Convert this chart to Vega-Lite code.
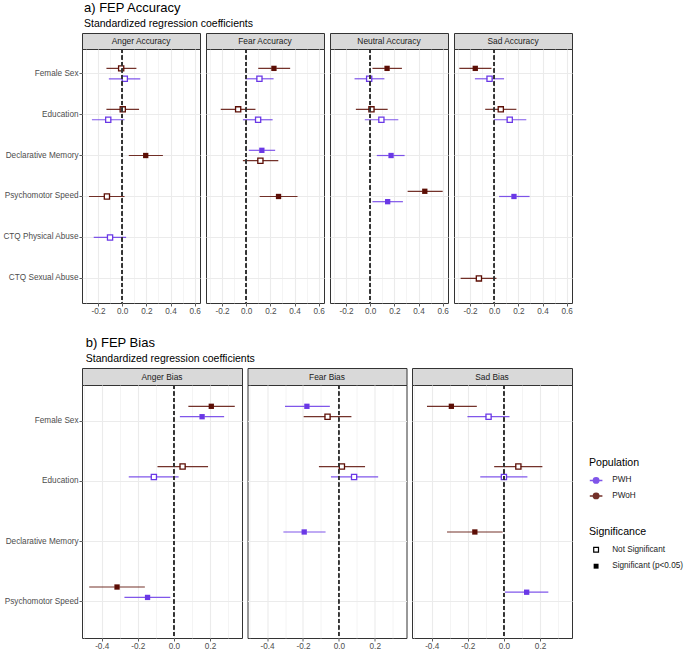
{
  "$schema": "https://vega.github.io/schema/vega-lite/v6.json",
  "padding": {"left": 1, "top": 2, "right": 2, "bottom": 0},
  "background": "white",
  "datasets": {
    "acc": [
      {"panel": "Anger Accuracy", "predictor": "Female Sex", "pop": "PWoH", "sig": "Not Significant", "est": -0.008, "lo": -0.13, "hi": 0.118},
      {"panel": "Anger Accuracy", "predictor": "Female Sex", "pop": "PWH", "sig": "Not Significant", "est": 0.022, "lo": -0.11, "hi": 0.15},
      {"panel": "Anger Accuracy", "predictor": "Education", "pop": "PWoH", "sig": "Not Significant", "est": 0.005, "lo": -0.13, "hi": 0.14},
      {"panel": "Anger Accuracy", "predictor": "Education", "pop": "PWH", "sig": "Not Significant", "est": -0.115, "lo": -0.25, "hi": 0.02},
      {"panel": "Anger Accuracy", "predictor": "Declarative Memory", "pop": "PWoH", "sig": "Significant (p<0.05)", "est": 0.195, "lo": 0.055, "hi": 0.337},
      {"panel": "Anger Accuracy", "predictor": "Psychomotor Speed", "pop": "PWoH", "sig": "Not Significant", "est": -0.126, "lo": -0.274, "hi": 0.02},
      {"panel": "Anger Accuracy", "predictor": "CTQ Physical Abuse", "pop": "PWH", "sig": "Not Significant", "est": -0.1, "lo": -0.235, "hi": 0.033},
      {"panel": "Fear Accuracy", "predictor": "Female Sex", "pop": "PWoH", "sig": "Significant (p<0.05)", "est": 0.23, "lo": 0.1, "hi": 0.364},
      {"panel": "Fear Accuracy", "predictor": "Female Sex", "pop": "PWH", "sig": "Not Significant", "est": 0.11, "lo": -0.008, "hi": 0.227},
      {"panel": "Fear Accuracy", "predictor": "Education", "pop": "PWoH", "sig": "Not Significant", "est": -0.066, "lo": -0.21, "hi": 0.077},
      {"panel": "Fear Accuracy", "predictor": "Education", "pop": "PWH", "sig": "Not Significant", "est": 0.099, "lo": -0.027, "hi": 0.219},
      {"panel": "Fear Accuracy", "predictor": "Declarative Memory", "pop": "PWH", "sig": "Significant (p<0.05)", "est": 0.13, "lo": 0.022, "hi": 0.24},
      {"panel": "Fear Accuracy", "predictor": "Declarative Memory", "pop": "PWoH", "sig": "Not Significant", "est": 0.118, "lo": -0.027, "hi": 0.266},
      {"panel": "Fear Accuracy", "predictor": "Psychomotor Speed", "pop": "PWoH", "sig": "Significant (p<0.05)", "est": 0.268, "lo": 0.112, "hi": 0.425},
      {"panel": "Neutral Accuracy", "predictor": "Female Sex", "pop": "PWoH", "sig": "Significant (p<0.05)", "est": 0.14, "lo": 0.019, "hi": 0.263},
      {"panel": "Neutral Accuracy", "predictor": "Female Sex", "pop": "PWH", "sig": "Not Significant", "est": -0.008, "lo": -0.129, "hi": 0.118},
      {"panel": "Neutral Accuracy", "predictor": "Education", "pop": "PWoH", "sig": "Not Significant", "est": 0.011, "lo": -0.118, "hi": 0.145},
      {"panel": "Neutral Accuracy", "predictor": "Education", "pop": "PWH", "sig": "Not Significant", "est": 0.093, "lo": -0.044, "hi": 0.233},
      {"panel": "Neutral Accuracy", "predictor": "Declarative Memory", "pop": "PWH", "sig": "Significant (p<0.05)", "est": 0.173, "lo": 0.055, "hi": 0.285},
      {"panel": "Neutral Accuracy", "predictor": "Psychomotor Speed", "pop": "PWoH", "sig": "Significant (p<0.05)", "est": 0.452, "lo": 0.31, "hi": 0.6},
      {"panel": "Neutral Accuracy", "predictor": "Psychomotor Speed", "pop": "PWH", "sig": "Significant (p<0.05)", "est": 0.145, "lo": 0.019, "hi": 0.271},
      {"panel": "Sad Accuracy", "predictor": "Female Sex", "pop": "PWoH", "sig": "Significant (p<0.05)", "est": -0.156, "lo": -0.288, "hi": -0.022},
      {"panel": "Sad Accuracy", "predictor": "Female Sex", "pop": "PWH", "sig": "Not Significant", "est": -0.038, "lo": -0.159, "hi": 0.082},
      {"panel": "Sad Accuracy", "predictor": "Education", "pop": "PWoH", "sig": "Not Significant", "est": 0.055, "lo": -0.074, "hi": 0.184},
      {"panel": "Sad Accuracy", "predictor": "Education", "pop": "PWH", "sig": "Not Significant", "est": 0.129, "lo": -0.003, "hi": 0.266},
      {"panel": "Sad Accuracy", "predictor": "Psychomotor Speed", "pop": "PWH", "sig": "Significant (p<0.05)", "est": 0.164, "lo": 0.041, "hi": 0.293},
      {"panel": "Sad Accuracy", "predictor": "CTQ Sexual Abuse", "pop": "PWoH", "sig": "Not Significant", "est": -0.126, "lo": -0.277, "hi": 0.019}
    ],
    "bias": [
      {"panel": "Anger Bias", "predictor": "Female Sex", "pop": "PWoH", "sig": "Significant (p<0.05)", "est": 0.207, "lo": 0.08, "hi": 0.337},
      {"panel": "Anger Bias", "predictor": "Female Sex", "pop": "PWH", "sig": "Significant (p<0.05)", "est": 0.156, "lo": 0.033, "hi": 0.278},
      {"panel": "Anger Bias", "predictor": "Education", "pop": "PWoH", "sig": "Not Significant", "est": 0.048, "lo": -0.091, "hi": 0.189},
      {"panel": "Anger Bias", "predictor": "Education", "pop": "PWH", "sig": "Not Significant", "est": -0.111, "lo": -0.25, "hi": 0.026},
      {"panel": "Anger Bias", "predictor": "Psychomotor Speed", "pop": "PWoH", "sig": "Significant (p<0.05)", "est": -0.315, "lo": -0.469, "hi": -0.161},
      {"panel": "Anger Bias", "predictor": "Psychomotor Speed", "pop": "PWH", "sig": "Significant (p<0.05)", "est": -0.146, "lo": -0.274, "hi": -0.02},
      {"panel": "Fear Bias", "predictor": "Female Sex", "pop": "PWH", "sig": "Significant (p<0.05)", "est": -0.178, "lo": -0.3, "hi": -0.05},
      {"panel": "Fear Bias", "predictor": "Female Sex", "pop": "PWoH", "sig": "Not Significant", "est": -0.063, "lo": -0.196, "hi": 0.07},
      {"panel": "Fear Bias", "predictor": "Education", "pop": "PWoH", "sig": "Not Significant", "est": 0.017, "lo": -0.111, "hi": 0.146},
      {"panel": "Fear Bias", "predictor": "Education", "pop": "PWH", "sig": "Not Significant", "est": 0.085, "lo": -0.044, "hi": 0.219},
      {"panel": "Fear Bias", "predictor": "Declarative Memory", "pop": "PWH", "sig": "Significant (p<0.05)", "est": -0.193, "lo": -0.309, "hi": -0.074},
      {"panel": "Sad Bias", "predictor": "Female Sex", "pop": "PWoH", "sig": "Significant (p<0.05)", "est": -0.291, "lo": -0.426, "hi": -0.15},
      {"panel": "Sad Bias", "predictor": "Female Sex", "pop": "PWH", "sig": "Not Significant", "est": -0.085, "lo": -0.202, "hi": 0.031},
      {"panel": "Sad Bias", "predictor": "Education", "pop": "PWoH", "sig": "Not Significant", "est": 0.08, "lo": -0.054, "hi": 0.213},
      {"panel": "Sad Bias", "predictor": "Education", "pop": "PWH", "sig": "Not Significant", "est": 0.0, "lo": -0.131, "hi": 0.13},
      {"panel": "Sad Bias", "predictor": "Declarative Memory", "pop": "PWoH", "sig": "Significant (p<0.05)", "est": -0.161, "lo": -0.315, "hi": -0.007},
      {"panel": "Sad Bias", "predictor": "Psychomotor Speed", "pop": "PWH", "sig": "Significant (p<0.05)", "est": 0.126, "lo": 0.006, "hi": 0.246}
    ]
  },
  "config": {
    "font": "Liberation Sans",
    "view": {"stroke": "#333333", "strokeWidth": 1},
    "axis": {"labelFont": "Liberation Sans", "labelFontSize": 8.2, "labelColor": "#4D4D4D", "tickColor": "#333333", "tickSize": 3, "tickWidth": 0.8, "domain": false, "gridColor": "#EBEBEB", "gridWidth": 1.1, "labelPadding": 1},
    "title": {"font": "Liberation Sans", "fontSize": 13, "fontWeight": "normal", "color": "#000000", "subtitleFont": "Liberation Sans", "subtitleFontSize": 10.5, "subtitleColor": "#000000", "subtitlePadding": 4, "offset": 3, "anchor": "start"},
    "legend": {"titleFont": "Liberation Sans", "titleFontSize": 10.6, "titleFontWeight": "normal", "titleColor": "#000000", "labelFont": "Liberation Sans", "labelFontSize": 8.2, "labelColor": "#1A1A1A", "titlePadding": 8, "rowPadding": 3.5, "labelOffset": 12, "symbolOffset": 3, "symbolSize": 36}
  },
  "spacing": 22,
  "vconcat": [
    {
      "title": {"text": "a) FEP Accuracy", "subtitle": "Standardized regression coefficients", "dx": 82},
      "spacing": 4,
      "hconcat": [
        {"spacing": 0, "bounds": "flush", "vconcat": [
          {"width": 118, "height": 16, "data": {"values": [{"label": "Anger Accuracy"}]}, "mark": {"type": "text", "fontSize": 8.4, "color": "#1A1A1A"}, "encoding": {"text": {"field": "label"}}, "view": {"fill": "#D9D9D9", "stroke": "#333333"}},
          {"width": 118, "height": 254, "data": {"name": "acc"},
           "transform": [
             {"filter": "datum.panel === 'Anger Accuracy'"},
             {"window": [{"op": "row_number", "as": "rk"}, {"op": "count", "as": "n"}], "groupby": ["predictor"], "sort": [{"field": "sig"}, {"field": "pop"}], "frame": [null, null]},
             {"calculate": "(datum.n + 1) / 2 - datum.rk", "as": "dodge"}
           ],
           "resolve": {"axis": {"x": "independent"}},
           "layer": [
             {"mark": {"type": "rule", "strokeWidth": 1.2, "opacity": 0.85},
              "encoding": {
                "y": {"field": "predictor", "type": "nominal", "scale": {"type": "band", "domain": ["Female Sex", "Education", "Declarative Memory", "Psychomotor Speed", "CTQ Physical Abuse", "CTQ Sexual Abuse"], "paddingInner": 0, "paddingOuter": 0.1}, "axis": {"title": null, "bandPosition": 0.5, "grid": true, "labelLimit": 200}},
                "yOffset": {"field": "dodge", "type": "quantitative", "scale": {"domain": [-0.5, 0.5], "range": [15.28, 25.68], "zero": false, "nice": false}},
                "x": {"field": "lo", "type": "quantitative", "scale": {"domain": [-0.332, 0.644], "nice": false, "zero": false}, "axis": {"title": null, "orient": "bottom", "values": [-0.2, 0, 0.2, 0.4, 0.6], "format": ".1f", "labelExpr": "replace(datum.label, '\u2212', '-')"}},
                "x2": {"field": "hi"},
                "color": {"field": "pop", "type": "nominal", "scale": {"domain": ["PWH", "PWoH"], "range": ["#6A38E6", "#5C0E05"]}}
              }},
             {"mark": {"type": "point", "shape": "square", "size": 20, "filled": true, "color": "white", "opacity": 1},
              "encoding": {"y": {"field": "predictor", "type": "nominal"}, "yOffset": {"field": "dodge", "type": "quantitative"}, "x": {"field": "est", "type": "quantitative", "axis": null}}},
             {"mark": {"type": "point", "size": 42, "filled": true, "opacity": 1},
              "encoding": {"y": {"field": "predictor", "type": "nominal"}, "yOffset": {"field": "dodge", "type": "quantitative"}, "x": {"field": "est", "type": "quantitative", "axis": null},
                "color": {"field": "pop", "type": "nominal", "legend": {"title": "Population", "orient": "none", "legendX": 507, "legendY": 424.7, "symbolType": "M-2.1,0H2.1M0.9,0A0.9,0.9 0 1,1 -0.9,0A0.9,0.9 0 1,1 0.9,0Z", "encode": {"symbols": {"update": {"stroke": {"scale": "color", "field": "value"}, "strokeWidth": {"value": 1.3}}}}}},
                "shape": {"field": "sig", "type": "nominal", "scale": {"domain": ["Not Significant", "Significant (p<0.05)"], "range": ["M-1,-1H1V1H-1ZM-0.6,-0.6V0.6H0.6V-0.6Z", "M-0.82,-0.82H0.82V0.82H-0.82Z"]}, "legend": {"title": "Significance", "orient": "none", "legendX": 507, "legendY": 494, "encode": {"symbols": {"update": {"shape": {"signal": "datum.value === 'Not Significant' ? 'M-2.1,0H-1M1,0H2.1M-1,-1H1V1H-1ZM-0.8,-0.8V0.8H0.8V-0.8Z' : 'M-2.1,0H2.1M-0.85,-0.85H0.85V0.85H-0.85Z'"}, "fill": {"value": "#000000"}, "stroke": {"value": "#000000"}, "strokeWidth": {"value": 1}, "opacity": {"value": 1}}}}}}
              }},
             {"mark": {"type": "rule", "color": "#333333", "strokeWidth": 1.1, "strokeDash": [4, 2.5]}, "encoding": {"x": {"datum": 0, "type": "quantitative", "axis": {"title": null, "orient": "bottom", "values": [-0.3, -0.1, 0.1, 0.3, 0.5], "labels": false, "ticks": false, "grid": true, "gridWidth": 0.55}}}}
           ]}
        ]},
        {"spacing": 0, "bounds": "flush", "vconcat": [
          {"width": 118, "height": 16, "data": {"values": [{"label": "Fear Accuracy"}]}, "mark": {"type": "text", "fontSize": 8.4, "color": "#1A1A1A"}, "encoding": {"text": {"field": "label"}}, "view": {"fill": "#D9D9D9", "stroke": "#333333"}},
          {"width": 118, "height": 254, "data": {"name": "acc"},
           "transform": [
             {"filter": "datum.panel === 'Fear Accuracy'"},
             {"window": [{"op": "row_number", "as": "rk"}, {"op": "count", "as": "n"}], "groupby": ["predictor"], "sort": [{"field": "sig"}, {"field": "pop"}], "frame": [null, null]},
             {"calculate": "(datum.n + 1) / 2 - datum.rk", "as": "dodge"}
           ],
           "resolve": {"axis": {"x": "independent"}},
           "layer": [
             {"mark": {"type": "rule", "strokeWidth": 1.2, "opacity": 0.85},
              "encoding": {
                "y": {"field": "predictor", "type": "nominal", "scale": {"type": "band", "domain": ["Female Sex", "Education", "Declarative Memory", "Psychomotor Speed", "CTQ Physical Abuse", "CTQ Sexual Abuse"], "paddingInner": 0, "paddingOuter": 0.1}, "axis": {"title": null, "bandPosition": 0.5, "grid": true, "labels": false, "ticks": false, "minExtent": 0, "maxExtent": 0}},
                "yOffset": {"field": "dodge", "type": "quantitative", "scale": {"domain": [-0.5, 0.5], "range": [15.28, 25.68], "zero": false, "nice": false}},
                "x": {"field": "lo", "type": "quantitative", "scale": {"domain": [-0.332, 0.644], "nice": false, "zero": false}, "axis": {"title": null, "orient": "bottom", "values": [-0.2, 0, 0.2, 0.4, 0.6], "format": ".1f", "labelExpr": "replace(datum.label, '\u2212', '-')"}},
                "x2": {"field": "hi"},
                "color": {"field": "pop", "type": "nominal"}
              }},
             {"mark": {"type": "point", "shape": "square", "size": 20, "filled": true, "color": "white", "opacity": 1},
              "encoding": {"y": {"field": "predictor", "type": "nominal"}, "yOffset": {"field": "dodge", "type": "quantitative"}, "x": {"field": "est", "type": "quantitative", "axis": null}}},
             {"mark": {"type": "point", "size": 42, "filled": true, "opacity": 1},
              "encoding": {"y": {"field": "predictor", "type": "nominal"}, "yOffset": {"field": "dodge", "type": "quantitative"}, "x": {"field": "est", "type": "quantitative", "axis": null},
                "color": {"field": "pop", "type": "nominal"},
                "shape": {"field": "sig", "type": "nominal"}
              }},
             {"mark": {"type": "rule", "color": "#333333", "strokeWidth": 1.1, "strokeDash": [4, 2.5]}, "encoding": {"x": {"datum": 0, "type": "quantitative", "axis": {"title": null, "orient": "bottom", "values": [-0.3, -0.1, 0.1, 0.3, 0.5], "labels": false, "ticks": false, "grid": true, "gridWidth": 0.55}}}}
           ]}
        ]},
        {"spacing": 0, "bounds": "flush", "vconcat": [
          {"width": 118, "height": 16, "data": {"values": [{"label": "Neutral Accuracy"}]}, "mark": {"type": "text", "fontSize": 8.4, "color": "#1A1A1A"}, "encoding": {"text": {"field": "label"}}, "view": {"fill": "#D9D9D9", "stroke": "#333333"}},
          {"width": 118, "height": 254, "data": {"name": "acc"},
           "transform": [
             {"filter": "datum.panel === 'Neutral Accuracy'"},
             {"window": [{"op": "row_number", "as": "rk"}, {"op": "count", "as": "n"}], "groupby": ["predictor"], "sort": [{"field": "sig"}, {"field": "pop"}], "frame": [null, null]},
             {"calculate": "(datum.n + 1) / 2 - datum.rk", "as": "dodge"}
           ],
           "resolve": {"axis": {"x": "independent"}},
           "layer": [
             {"mark": {"type": "rule", "strokeWidth": 1.2, "opacity": 0.85},
              "encoding": {
                "y": {"field": "predictor", "type": "nominal", "scale": {"type": "band", "domain": ["Female Sex", "Education", "Declarative Memory", "Psychomotor Speed", "CTQ Physical Abuse", "CTQ Sexual Abuse"], "paddingInner": 0, "paddingOuter": 0.1}, "axis": {"title": null, "bandPosition": 0.5, "grid": true, "labels": false, "ticks": false, "minExtent": 0, "maxExtent": 0}},
                "yOffset": {"field": "dodge", "type": "quantitative", "scale": {"domain": [-0.5, 0.5], "range": [15.28, 25.68], "zero": false, "nice": false}},
                "x": {"field": "lo", "type": "quantitative", "scale": {"domain": [-0.332, 0.644], "nice": false, "zero": false}, "axis": {"title": null, "orient": "bottom", "values": [-0.2, 0, 0.2, 0.4, 0.6], "format": ".1f", "labelExpr": "replace(datum.label, '\u2212', '-')"}},
                "x2": {"field": "hi"},
                "color": {"field": "pop", "type": "nominal"}
              }},
             {"mark": {"type": "point", "shape": "square", "size": 20, "filled": true, "color": "white", "opacity": 1},
              "encoding": {"y": {"field": "predictor", "type": "nominal"}, "yOffset": {"field": "dodge", "type": "quantitative"}, "x": {"field": "est", "type": "quantitative", "axis": null}}},
             {"mark": {"type": "point", "size": 42, "filled": true, "opacity": 1},
              "encoding": {"y": {"field": "predictor", "type": "nominal"}, "yOffset": {"field": "dodge", "type": "quantitative"}, "x": {"field": "est", "type": "quantitative", "axis": null},
                "color": {"field": "pop", "type": "nominal"},
                "shape": {"field": "sig", "type": "nominal"}
              }},
             {"mark": {"type": "rule", "color": "#333333", "strokeWidth": 1.1, "strokeDash": [4, 2.5]}, "encoding": {"x": {"datum": 0, "type": "quantitative", "axis": {"title": null, "orient": "bottom", "values": [-0.3, -0.1, 0.1, 0.3, 0.5], "labels": false, "ticks": false, "grid": true, "gridWidth": 0.55}}}}
           ]}
        ]},
        {"spacing": 0, "bounds": "flush", "vconcat": [
          {"width": 118, "height": 16, "data": {"values": [{"label": "Sad Accuracy"}]}, "mark": {"type": "text", "fontSize": 8.4, "color": "#1A1A1A"}, "encoding": {"text": {"field": "label"}}, "view": {"fill": "#D9D9D9", "stroke": "#333333"}},
          {"width": 118, "height": 254, "data": {"name": "acc"},
           "transform": [
             {"filter": "datum.panel === 'Sad Accuracy'"},
             {"window": [{"op": "row_number", "as": "rk"}, {"op": "count", "as": "n"}], "groupby": ["predictor"], "sort": [{"field": "sig"}, {"field": "pop"}], "frame": [null, null]},
             {"calculate": "(datum.n + 1) / 2 - datum.rk", "as": "dodge"}
           ],
           "resolve": {"axis": {"x": "independent"}},
           "layer": [
             {"mark": {"type": "rule", "strokeWidth": 1.2, "opacity": 0.85},
              "encoding": {
                "y": {"field": "predictor", "type": "nominal", "scale": {"type": "band", "domain": ["Female Sex", "Education", "Declarative Memory", "Psychomotor Speed", "CTQ Physical Abuse", "CTQ Sexual Abuse"], "paddingInner": 0, "paddingOuter": 0.1}, "axis": {"title": null, "bandPosition": 0.5, "grid": true, "labels": false, "ticks": false, "minExtent": 0, "maxExtent": 0}},
                "yOffset": {"field": "dodge", "type": "quantitative", "scale": {"domain": [-0.5, 0.5], "range": [15.28, 25.68], "zero": false, "nice": false}},
                "x": {"field": "lo", "type": "quantitative", "scale": {"domain": [-0.332, 0.644], "nice": false, "zero": false}, "axis": {"title": null, "orient": "bottom", "values": [-0.2, 0, 0.2, 0.4, 0.6], "format": ".1f", "labelExpr": "replace(datum.label, '\u2212', '-')"}},
                "x2": {"field": "hi"},
                "color": {"field": "pop", "type": "nominal"}
              }},
             {"mark": {"type": "point", "shape": "square", "size": 20, "filled": true, "color": "white", "opacity": 1},
              "encoding": {"y": {"field": "predictor", "type": "nominal"}, "yOffset": {"field": "dodge", "type": "quantitative"}, "x": {"field": "est", "type": "quantitative", "axis": null}}},
             {"mark": {"type": "point", "size": 42, "filled": true, "opacity": 1},
              "encoding": {"y": {"field": "predictor", "type": "nominal"}, "yOffset": {"field": "dodge", "type": "quantitative"}, "x": {"field": "est", "type": "quantitative", "axis": null},
                "color": {"field": "pop", "type": "nominal"},
                "shape": {"field": "sig", "type": "nominal"}
              }},
             {"mark": {"type": "rule", "color": "#333333", "strokeWidth": 1.1, "strokeDash": [4, 2.5]}, "encoding": {"x": {"datum": 0, "type": "quantitative", "axis": {"title": null, "orient": "bottom", "values": [-0.3, -0.1, 0.1, 0.3, 0.5], "labels": false, "ticks": false, "grid": true, "gridWidth": 0.55}}}}
           ]}
        ]}
      ]
    },
    {
      "title": {"text": "b) FEP Bias", "subtitle": "Standardized regression coefficients", "dx": 82},
      "spacing": 3.5,
      "hconcat": [
        {"spacing": 0, "bounds": "flush", "vconcat": [
          {"width": 160, "height": 17, "data": {"values": [{"label": "Anger Bias"}]}, "mark": {"type": "text", "fontSize": 8.4, "color": "#1A1A1A"}, "encoding": {"text": {"field": "label"}}, "view": {"fill": "#D9D9D9", "stroke": "#333333"}},
          {"width": 160, "height": 253, "data": {"name": "bias"},
           "transform": [
             {"filter": "datum.panel === 'Anger Bias'"},
             {"window": [{"op": "row_number", "as": "rk"}, {"op": "count", "as": "n"}], "groupby": ["predictor"], "sort": [{"field": "sig"}, {"field": "pop"}], "frame": [null, null]},
             {"calculate": "(datum.n + 1) / 2 - datum.rk", "as": "dodge"}
           ],
           "resolve": {"axis": {"x": "independent"}},
           "layer": [
             {"mark": {"type": "rule", "strokeWidth": 1.2, "opacity": 0.85},
              "encoding": {
                "y": {"field": "predictor", "type": "nominal", "scale": {"type": "band", "domain": ["Female Sex", "Education", "Declarative Memory", "Psychomotor Speed"], "paddingInner": 0, "paddingOuter": 0.1}, "axis": {"title": null, "bandPosition": 0.5, "grid": true, "labelLimit": 200}},
                "yOffset": {"field": "dodge", "type": "quantitative", "scale": {"domain": [-0.5, 0.5], "range": [22.8, 37.4], "zero": false, "nice": false}},
                "x": {"field": "lo", "type": "quantitative", "scale": {"domain": [-0.509, 0.377], "nice": false, "zero": false}, "axis": {"title": null, "orient": "bottom", "values": [-0.4, -0.2, 0, 0.2], "format": ".1f", "labelExpr": "replace(datum.label, '\u2212', '-')"}},
                "x2": {"field": "hi"},
                "color": {"field": "pop", "type": "nominal"}
              }},
             {"mark": {"type": "point", "shape": "square", "size": 20, "filled": true, "color": "white", "opacity": 1},
              "encoding": {"y": {"field": "predictor", "type": "nominal"}, "yOffset": {"field": "dodge", "type": "quantitative"}, "x": {"field": "est", "type": "quantitative", "axis": null}}},
             {"mark": {"type": "point", "size": 42, "filled": true, "opacity": 1},
              "encoding": {"y": {"field": "predictor", "type": "nominal"}, "yOffset": {"field": "dodge", "type": "quantitative"}, "x": {"field": "est", "type": "quantitative", "axis": null},
                "color": {"field": "pop", "type": "nominal"},
                "shape": {"field": "sig", "type": "nominal"}
              }},
             {"mark": {"type": "rule", "color": "#333333", "strokeWidth": 1.1, "strokeDash": [4, 2.5]}, "encoding": {"x": {"datum": 0, "type": "quantitative", "axis": {"title": null, "orient": "bottom", "values": [-0.5, -0.3, -0.1, 0.1, 0.3], "labels": false, "ticks": false, "grid": true, "gridWidth": 0.55}}}}
           ]}
        ]},
        {"spacing": 0, "bounds": "flush", "vconcat": [
          {"width": 159, "height": 17, "data": {"values": [{"label": "Fear Bias"}]}, "mark": {"type": "text", "fontSize": 8.4, "color": "#1A1A1A"}, "encoding": {"text": {"field": "label"}}, "view": {"fill": "#D9D9D9", "stroke": "#333333"}},
          {"width": 159, "height": 253, "data": {"name": "bias"},
           "transform": [
             {"filter": "datum.panel === 'Fear Bias'"},
             {"window": [{"op": "row_number", "as": "rk"}, {"op": "count", "as": "n"}], "groupby": ["predictor"], "sort": [{"field": "sig"}, {"field": "pop"}], "frame": [null, null]},
             {"calculate": "(datum.n + 1) / 2 - datum.rk", "as": "dodge"}
           ],
           "resolve": {"axis": {"x": "independent"}},
           "layer": [
             {"mark": {"type": "rule", "strokeWidth": 1.2, "opacity": 0.85},
              "encoding": {
                "y": {"field": "predictor", "type": "nominal", "scale": {"type": "band", "domain": ["Female Sex", "Education", "Declarative Memory", "Psychomotor Speed"], "paddingInner": 0, "paddingOuter": 0.1}, "axis": {"title": null, "bandPosition": 0.5, "grid": true, "labels": false, "ticks": false, "minExtent": 0, "maxExtent": 0}},
                "yOffset": {"field": "dodge", "type": "quantitative", "scale": {"domain": [-0.5, 0.5], "range": [22.8, 37.4], "zero": false, "nice": false}},
                "x": {"field": "lo", "type": "quantitative", "scale": {"domain": [-0.509, 0.377], "nice": false, "zero": false}, "axis": {"title": null, "orient": "bottom", "values": [-0.4, -0.2, 0, 0.2], "format": ".1f", "labelExpr": "replace(datum.label, '\u2212', '-')"}},
                "x2": {"field": "hi"},
                "color": {"field": "pop", "type": "nominal"}
              }},
             {"mark": {"type": "point", "shape": "square", "size": 20, "filled": true, "color": "white", "opacity": 1},
              "encoding": {"y": {"field": "predictor", "type": "nominal"}, "yOffset": {"field": "dodge", "type": "quantitative"}, "x": {"field": "est", "type": "quantitative", "axis": null}}},
             {"mark": {"type": "point", "size": 42, "filled": true, "opacity": 1},
              "encoding": {"y": {"field": "predictor", "type": "nominal"}, "yOffset": {"field": "dodge", "type": "quantitative"}, "x": {"field": "est", "type": "quantitative", "axis": null},
                "color": {"field": "pop", "type": "nominal"},
                "shape": {"field": "sig", "type": "nominal"}
              }},
             {"mark": {"type": "rule", "color": "#333333", "strokeWidth": 1.1, "strokeDash": [4, 2.5]}, "encoding": {"x": {"datum": 0, "type": "quantitative", "axis": {"title": null, "orient": "bottom", "values": [-0.5, -0.3, -0.1, 0.1, 0.3], "labels": false, "ticks": false, "grid": true, "gridWidth": 0.55}}}}
           ]}
        ]},
        {"spacing": 0, "bounds": "flush", "vconcat": [
          {"width": 160, "height": 17, "data": {"values": [{"label": "Sad Bias"}]}, "mark": {"type": "text", "fontSize": 8.4, "color": "#1A1A1A"}, "encoding": {"text": {"field": "label"}}, "view": {"fill": "#D9D9D9", "stroke": "#333333"}},
          {"width": 160, "height": 253, "data": {"name": "bias"},
           "transform": [
             {"filter": "datum.panel === 'Sad Bias'"},
             {"window": [{"op": "row_number", "as": "rk"}, {"op": "count", "as": "n"}], "groupby": ["predictor"], "sort": [{"field": "sig"}, {"field": "pop"}], "frame": [null, null]},
             {"calculate": "(datum.n + 1) / 2 - datum.rk", "as": "dodge"}
           ],
           "resolve": {"axis": {"x": "independent"}},
           "layer": [
             {"mark": {"type": "rule", "strokeWidth": 1.2, "opacity": 0.85},
              "encoding": {
                "y": {"field": "predictor", "type": "nominal", "scale": {"type": "band", "domain": ["Female Sex", "Education", "Declarative Memory", "Psychomotor Speed"], "paddingInner": 0, "paddingOuter": 0.1}, "axis": {"title": null, "bandPosition": 0.5, "grid": true, "labels": false, "ticks": false, "minExtent": 0, "maxExtent": 0}},
                "yOffset": {"field": "dodge", "type": "quantitative", "scale": {"domain": [-0.5, 0.5], "range": [22.8, 37.4], "zero": false, "nice": false}},
                "x": {"field": "lo", "type": "quantitative", "scale": {"domain": [-0.509, 0.377], "nice": false, "zero": false}, "axis": {"title": null, "orient": "bottom", "values": [-0.4, -0.2, 0, 0.2], "format": ".1f", "labelExpr": "replace(datum.label, '\u2212', '-')"}},
                "x2": {"field": "hi"},
                "color": {"field": "pop", "type": "nominal"}
              }},
             {"mark": {"type": "point", "shape": "square", "size": 20, "filled": true, "color": "white", "opacity": 1},
              "encoding": {"y": {"field": "predictor", "type": "nominal"}, "yOffset": {"field": "dodge", "type": "quantitative"}, "x": {"field": "est", "type": "quantitative", "axis": null}}},
             {"mark": {"type": "point", "size": 42, "filled": true, "opacity": 1},
              "encoding": {"y": {"field": "predictor", "type": "nominal"}, "yOffset": {"field": "dodge", "type": "quantitative"}, "x": {"field": "est", "type": "quantitative", "axis": null},
                "color": {"field": "pop", "type": "nominal"},
                "shape": {"field": "sig", "type": "nominal"}
              }},
             {"mark": {"type": "rule", "color": "#333333", "strokeWidth": 1.1, "strokeDash": [4, 2.5]}, "encoding": {"x": {"datum": 0, "type": "quantitative", "axis": {"title": null, "orient": "bottom", "values": [-0.5, -0.3, -0.1, 0.1, 0.3], "labels": false, "ticks": false, "grid": true, "gridWidth": 0.55}}}}
           ]}
        ]}
      ]
    }
  ]
}
